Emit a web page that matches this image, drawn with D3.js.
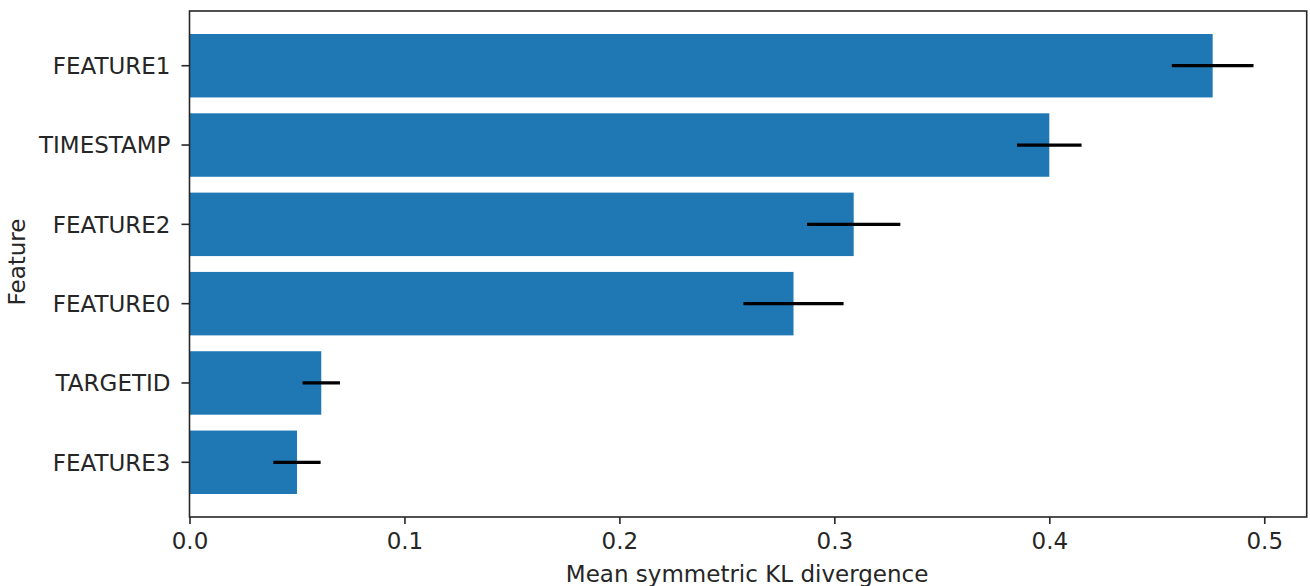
<!DOCTYPE html>
<html>
<head>
<meta charset="utf-8">
<script src="https://cdn.jsdelivr.net/npm/d3@7"></script>
<style>
  html, body { margin: 0; padding: 0; background: #fff; }
  svg { display: block; }
  text { font-family: "DejaVu Sans", sans-serif; fill: #262626; }
</style>
</head>
<body>
<svg id="chart" width="1310" height="586"></svg>
<script>
// Features, listed top to bottom
const features = ["FEATURE1", "TIMESTAMP", "FEATURE2", "FEATURE0", "TARGETID", "FEATURE3"];
// Mean symmetric KL divergence for each feature
const meanKL = [0.476, 0.400, 0.309, 0.281, 0.0613, 0.0500];
// Standard deviation (error bar half-width)
const stdKL = [0.019, 0.015, 0.0217, 0.0233, 0.0087, 0.011];
// X-axis tick values
const xTicks = [0.0, 0.1, 0.2, 0.3, 0.4, 0.5];

const rows = features.map((f, i) => ({ feature: f, mean: meanKL[i], std: stdKL[i] }));

const svg = d3.select("#chart");
const plotLeft = 189.5, plotRight = 1306.7, plotTop = 11, plotBottom = 517;
const fontSize = 23;

const xMax = d3.max(rows, d => d.mean + d.std) * 1.05;
const x = d3.scaleLinear().domain([0, xMax]).range([plotLeft, plotRight]);
const y = d3.scaleBand().domain(features).range([plotTop, plotBottom])
  .paddingInner(0.2).paddingOuter(0.29);

// Bars
svg.append("g").selectAll("rect").data(rows).join("rect")
  .attr("x", x(0))
  .attr("y", d => y(d.feature))
  .attr("width", d => x(d.mean) - x(0))
  .attr("height", y.bandwidth())
  .attr("fill", "#1f77b4");

// Error bars
svg.append("g").selectAll("line").data(rows).join("line")
  .attr("x1", d => x(d.mean - d.std))
  .attr("x2", d => x(d.mean + d.std))
  .attr("y1", d => y(d.feature) + y.bandwidth() / 2)
  .attr("y2", d => y(d.feature) + y.bandwidth() / 2)
  .attr("stroke", "#000")
  .attr("stroke-width", 3.3);

// X axis
const xAxis = svg.append("g")
  .attr("transform", `translate(0,${plotBottom})`)
  .call(d3.axisBottom(x).tickValues(xTicks).tickFormat(d3.format(".1f"))
    .tickSize(7).tickSizeOuter(0).tickPadding(8));
xAxis.select(".domain").remove();
xAxis.selectAll(".tick line").attr("stroke", "#262626").attr("stroke-width", 1.6);
xAxis.selectAll(".tick text")
  .attr("font-size", fontSize).attr("font-family", "DejaVu Sans").attr("fill", "#262626")
  .attr("dy", "0.74em");

// Y axis
const yAxis = svg.append("g")
  .attr("transform", `translate(${plotLeft},0)`)
  .call(d3.axisLeft(y).tickSize(8).tickSizeOuter(0).tickPadding(11));
yAxis.select(".domain").remove();
yAxis.selectAll(".tick line").attr("stroke", "#262626").attr("stroke-width", 1.6);
yAxis.selectAll(".tick text")
  .attr("font-size", fontSize).attr("font-family", "DejaVu Sans").attr("fill", "#262626")
  .attr("dy", "0.36em");

// Axes frame
svg.append("rect")
  .attr("x", plotLeft).attr("y", plotTop)
  .attr("width", plotRight - plotLeft).attr("height", plotBottom - plotTop)
  .attr("fill", "none").attr("stroke", "#262626").attr("stroke-width", 1.6);

// Axis labels
svg.append("text")
  .attr("x", (plotLeft + plotRight) / 2 - 1).attr("y", 582)
  .attr("text-anchor", "middle").attr("font-size", fontSize)
  .text("Mean symmetric KL divergence");

svg.append("text")
  .attr("transform", `translate(25,${(plotTop + plotBottom) / 2 - 2}) rotate(-90)`)
  .attr("text-anchor", "middle").attr("font-size", fontSize)
  .text("Feature");
</script>
</body>
</html>
